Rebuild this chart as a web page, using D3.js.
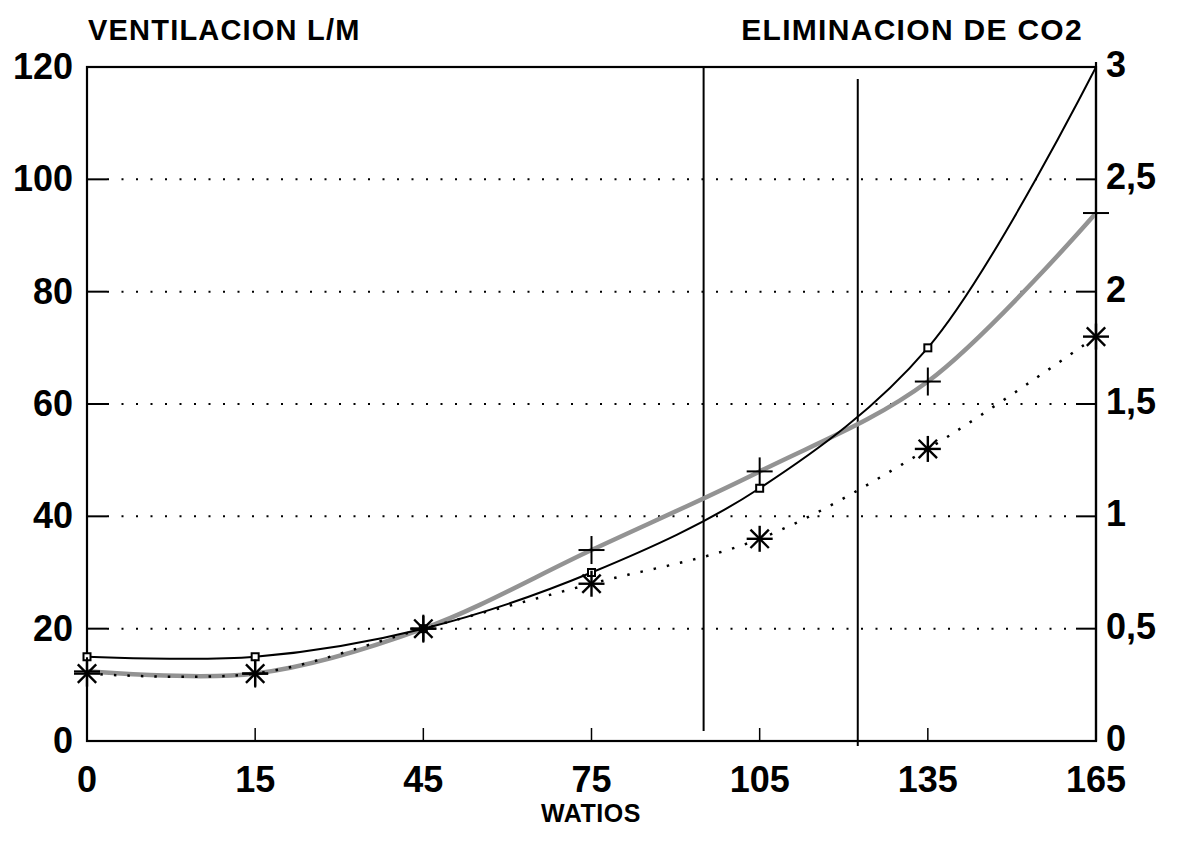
<!DOCTYPE html>
<html>
<head>
<meta charset="utf-8">
<script src="https://cdn.jsdelivr.net/npm/d3@7"></script>
<style>
  body { margin: 0; background: #fff; }
  text { font-family: "Liberation Sans", Arial, sans-serif; font-weight: bold; fill: #000; }
</style>
</head>
<body>
<svg width="1180" height="853"></svg>
<script>
// data
var watts = [0, 15, 45, 75, 105, 135, 165];
var ventilacion = [15, 15, 20, 30, 45, 70, 120];       // left axis, L/M
var co2 = [0.31, 0.3, 0.5, 0.85, 1.2, 1.6, 2.35];      // right axis (+ markers, grey line)
var o2 = [0.3, 0.3, 0.5, 0.7, 0.9, 1.3, 1.8];          // right axis (asterisks, dotted line)
var umbrales = [95, 122.5];                             // vertical lines, watts
var leftTicks = [0, 20, 40, 60, 80, 100, 120];
var rightTicks = [0, 0.5, 1, 1.5, 2, 2.5, 3];
var rightLabels = ["0", "0,5", "1", "1,5", "2", "2,5", "3"];

var svg = d3.select("svg"),
    x0 = 87, x1 = 1096, y0 = 741, y1 = 67;

var step = (x1 - x0) / (watts.length - 1);
var x = d3.scaleLinear()
    .domain(watts)
    .range(watts.map(function(d, i) { return x0 + i * step; }));
var yL = d3.scaleLinear().domain([0, 120]).range([y0, y1]);
var yR = d3.scaleLinear().domain([0, 3]).range([y0, y1]);

// grid (dotted) + inward ticks
svg.append("g").selectAll("line")
    .data(leftTicks.filter(function(d) { return d > 0 && d < 120; }))
    .enter().append("line")
    .attr("x1", x0 + 20).attr("x2", x1 - 20)
    .attr("y1", function(d) { return yL(d); }).attr("y2", function(d) { return yL(d); })
    .attr("stroke", "#000").attr("stroke-width", 2).attr("stroke-dasharray", "2,12.5");

svg.append("g").selectAll("line")
    .data(leftTicks.filter(function(d) { return d > 0 && d < 120; }))
    .enter().append("line")
    .attr("x1", x0).attr("x2", x0 + 20)
    .attr("y1", function(d) { return yL(d); }).attr("y2", function(d) { return yL(d); })
    .attr("stroke", "#000").attr("stroke-width", 2);

svg.append("g").selectAll("line")
    .data(rightTicks.filter(function(d) { return d > 0 && d < 3; }))
    .enter().append("line")
    .attr("x1", x1 - 20).attr("x2", x1)
    .attr("y1", function(d) { return yR(d); }).attr("y2", function(d) { return yR(d); })
    .attr("stroke", "#000").attr("stroke-width", 2);

svg.append("g").selectAll("line")
    .data(watts.slice(1, -1))
    .enter().append("line")
    .attr("x1", function(d) { return x(d); }).attr("x2", function(d) { return x(d); })
    .attr("y1", y0).attr("y2", y0 - 13)
    .attr("stroke", "#000").attr("stroke-width", 1.5);

// frame
svg.append("rect")
    .attr("x", x0).attr("y", y1)
    .attr("width", x1 - x0).attr("height", y0 - y1)
    .attr("fill", "none").attr("stroke", "#000").attr("stroke-width", 2.2);
svg.append("line")
    .attr("x1", x1).attr("x2", x1).attr("y1", y1 - 5).attr("y2", y0)
    .attr("stroke", "#000").attr("stroke-width", 2.2);

// vertical threshold lines
svg.append("g").selectAll("line")
    .data(umbrales)
    .enter().append("line")
    .attr("x1", function(d) { return x(d); }).attr("x2", function(d) { return x(d); })
    .attr("y1", function(d, i) { return i ? y1 + 12 : y1; })
    .attr("y2", function(d, i) { return i ? y0 + 5 : y0 - 10; })
    .attr("stroke", "#000").attr("stroke-width", 2);

// series lines
var lineR = d3.line()
    .x(function(d, i) { return x(watts[i]); })
    .y(function(d) { return yR(d); })
    .curve(d3.curveCatmullRom.alpha(0.5));
var lineL = d3.line()
    .x(function(d, i) { return x(watts[i]); })
    .y(function(d) { return yL(d); })
    .curve(d3.curveCatmullRom.alpha(0.5));

svg.append("path").datum(co2)
    .attr("d", lineR)
    .attr("fill", "none").attr("stroke", "#939393").attr("stroke-width", 4.5);

svg.append("path").datum(o2)
    .attr("d", lineR)
    .attr("fill", "none").attr("stroke", "#000").attr("stroke-width", 2.5)
    .attr("stroke-dasharray", "2.5,11");

svg.append("path").datum(ventilacion)
    .attr("d", lineL)
    .attr("fill", "none").attr("stroke", "#000").attr("stroke-width", 2);

// markers
svg.append("g").selectAll("rect")
    .data(ventilacion.slice(0, -1))
    .enter().append("rect")
    .attr("x", function(d, i) { return x(watts[i]) - 3.5; })
    .attr("y", function(d) { return yL(d) - 3.5; })
    .attr("width", 7).attr("height", 7)
    .attr("fill", "#fff").attr("stroke", "#000").attr("stroke-width", 2);

var plus = svg.append("g").selectAll("g")
    .data(co2)
    .enter().append("g")
    .attr("transform", function(d, i) { return "translate(" + x(watts[i]) + "," + yR(d) + ")"; });
plus.append("line").attr("x1", -13).attr("x2", 13).attr("stroke", "#000").attr("stroke-width", 2);
plus.append("line").attr("y1", -14).attr("y2", 14).attr("stroke", "#000").attr("stroke-width", 2);

var star = svg.append("g").selectAll("g")
    .data(o2)
    .enter().append("g")
    .attr("transform", function(d, i) { return "translate(" + x(watts[i]) + "," + yR(d) + ")"; });
[0, 45, 90, 135].forEach(function(a) {
  var r = 13, t = a * Math.PI / 180;
  star.append("line")
    .attr("x1", -r * Math.cos(t)).attr("y1", -r * Math.sin(t))
    .attr("x2", r * Math.cos(t)).attr("y2", r * Math.sin(t))
    .attr("stroke", "#000").attr("stroke-width", 2.4);
});

// tick labels
svg.append("g").selectAll("text")
    .data(leftTicks)
    .enter().append("text")
    .attr("x", 73).attr("y", function(d) { return yL(d) + 12; })
    .attr("text-anchor", "end").style("font-size", "36px")
    .text(function(d) { return d; });

svg.append("g").selectAll("text")
    .data(rightTicks)
    .enter().append("text")
    .attr("x", 1106).attr("y", function(d) { return yR(d) + 10; })
    .style("font-size", "36px")
    .text(function(d, i) { return rightLabels[i]; });

svg.append("g").selectAll("text")
    .data(watts)
    .enter().append("text")
    .attr("x", function(d) { return x(d); }).attr("y", 792)
    .attr("text-anchor", "middle").style("font-size", "36px")
    .text(function(d) { return d; });

// titles
svg.append("text").attr("x", 88).attr("y", 40)
    .style("font-size", "29px").style("letter-spacing", "1.2px")
    .text("VENTILACION L/M");
svg.append("text").attr("x", 1083).attr("y", 40)
    .attr("text-anchor", "end")
    .style("font-size", "30px").style("letter-spacing", "1.3px")
    .text("ELIMINACION DE CO2");
svg.append("text").attr("x", 591).attr("y", 822)
    .attr("text-anchor", "middle")
    .style("font-size", "25px").style("letter-spacing", "0.5px")
    .text("WATIOS");
</script>
</body>
</html>
